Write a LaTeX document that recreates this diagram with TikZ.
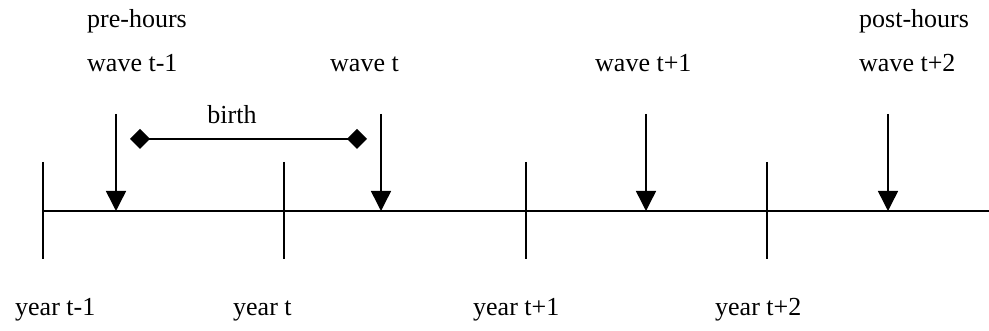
\documentclass[tikz,border=0pt]{standalone}
\usepackage{fontspec}
\setmainfont{Liberation Serif}
\usetikzlibrary{arrows.meta}

\begin{document}
\begin{tikzpicture}[x=1pt, y=1pt,
  lbl/.style={font=\fontsize{26}{30}\selectfont, anchor=base west, inner sep=0pt},
  tickline/.style={line width=1.5pt},
  wavearrow/.style={line width=1.5pt, -{Triangle[length=20pt, width=20pt]}},
  spanline/.style={line width=1.5pt, {Diamond[length=20pt, width=20pt]}-{Diamond[length=20pt, width=20pt]}}]
\useasboundingbox (0,0) rectangle (989,331);
% time axis
\coordinate (axisL) at (43,120);
\coordinate (axisR) at (989,120);
\draw[tickline] (axisL) -- (axisR);
% year ticks and labels
\foreach \i/\x/\lx/\t in {0/43/15/t-1, 1/284/233/t, 2/526/473/t+1, 3/767/715/t+2} {
  \coordinate (ytop\i) at (\x,169);
  \coordinate (ybot\i) at (\x,72);
  \draw[tickline] (ytop\i) -- (ybot\i);
  \node[lbl] (year\i) at (\lx,15) {year \t};
}
% survey waves
\foreach \i/\x/\lx/\t in {0/116/87/t-1, 1/381/330/t, 2/646/595/t+1, 3/888/859/t+2} {
  \coordinate (wtop\i) at (\x,217);
  \coordinate (wtip\i) at (\x,120);
  \draw[wavearrow] (wtop\i) -- (wtip\i);
  \node[lbl] (wave\i) at (\lx,259) {wave \t};
}
\node[lbl] (pre) at (87,303) {pre-hours};
\node[lbl] (post) at (859,303) {post-hours};
% birth window
\coordinate (bL) at (130,192);
\coordinate (bR) at (367,192);
\draw[spanline] (bL) -- (bR);
\node[lbl, anchor=base] (birth) at (232,207) {birth};
\end{tikzpicture}
\end{document}
